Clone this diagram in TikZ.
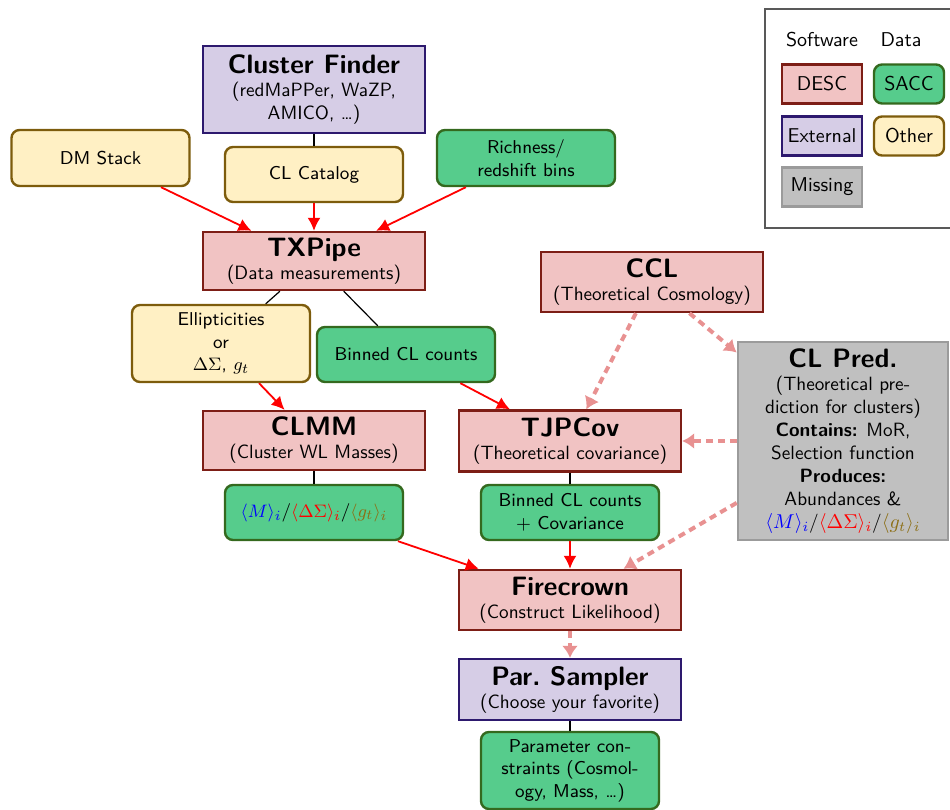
\documentclass[tikz,border=0pt]{standalone}
\usepackage{amsmath,amssymb}
\usepackage{tikz}
\usetikzlibrary{arrows.meta}
\usepackage{xcolor}
\definecolor{descfill}{RGB}{241,195,195}
\definecolor{descline}{RGB}{125,30,22}
\definecolor{extfill}{RGB}{214,205,230}
\definecolor{extline}{RGB}{45,25,110}
\definecolor{missfill}{RGB}{192,192,192}
\definecolor{missline}{RGB}{155,155,155}
\definecolor{saccfill}{RGB}{86,204,140}
\definecolor{saccline}{RGB}{52,105,30}
\definecolor{otherfill}{RGB}{255,240,196}
\definecolor{otherline}{RGB}{125,92,12}
\definecolor{dashred}{RGB}{232,145,145}
\definecolor{gtcol}{RGB}{140,110,20}
\newcommand{\boxtitle}{\fontsize{13.3}{15}\selectfont\bfseries}
\newcommand{\profs}{{\color{blue}$\langle M\rangle_i$}/{\color{red}$\langle\Delta\Sigma\rangle_i$}/{\color{gtcol}$\langle g_t\rangle_i$}}

\begin{document}
\begin{tikzpicture}[x=0.5pt,y=0.5pt,font=\sffamily\fontsize{9.6}{11.5}\selectfont,
  sw/.style={draw=descline,fill=descfill,line width=1.2pt,minimum width=111pt,minimum height=30pt,align=center,inner sep=2pt},
  ext/.style={sw,draw=extline,fill=extfill},
  miss/.style={sw,draw=missline,fill=missfill,line width=1.3pt},
  data/.style={draw=saccline,fill=saccfill,line width=1.2pt,rounded corners=4pt,minimum width=89pt,minimum height=27.5pt,align=center,inner sep=2pt,font=\sffamily\fontsize{9.3}{11.3}\selectfont},
  other/.style={data,draw=otherline,fill=otherfill},
  flow/.style={-{Latex[length=6.5pt,width=6.5pt]},red,line width=0.9pt},
  theo/.style={-{Latex[length=6pt,width=8pt]},dashred,line width=2pt,dash pattern=on 3.5pt off 2.5pt},
  link/.style={black,line width=0.6pt}]
\useasboundingbox (0,0) rectangle (950,810);
\draw[gray!70!black,line width=0.6pt] (950,801) -- (765,801) -- (765,582) -- (950,582);
\node (lsoft) at (822,770) {\fontsize{10}{12}\selectfont Software};
\node (ldata) at (901,770) {\fontsize{10}{12}\selectfont Data};
\node[sw,minimum width=40pt,minimum height=19.5pt,font=\sffamily\fontsize{10}{12}\selectfont] (ldesc) at (822,726) {DESC};
\node[ext,minimum width=40pt,minimum height=19.5pt,font=\sffamily\fontsize{10}{12}\selectfont] (lext) at (822,674) {External};
\node[miss,minimum width=40pt,minimum height=19.5pt,font=\sffamily\fontsize{10}{12}\selectfont] (lmiss) at (822,623) {Missing};
\node[data,minimum width=35pt,minimum height=19.5pt,font=\sffamily\fontsize{10}{12}\selectfont] (lsacc) at (909,726) {SACC};
\node[other,minimum width=35pt,minimum height=19.5pt,font=\sffamily\fontsize{10}{12}\selectfont] (lother) at (909,674) {Other};

\node[ext,minimum height=43.5pt] (cfinder) at (314,720.5) {{\boxtitle Cluster Finder}\\(redMaPPer, WaZP,\\AMICO, \ldots)};
\node[other,minimum height=28pt] (dmstack) at (100.5,652) {DM Stack};
\node[other] (clcat) at (314,635.5) {CL Catalog};
\node[data,minimum height=28pt] (richness) at (526,652) {Richness/\\redshift bins};
\node[sw,minimum height=29pt] (txpipe) at (314,549) {{\boxtitle TXPipe}\\(Data measurements)};
\node[sw] (ccl) at (652,528) {{\boxtitle CCL}\\(Theoretical Cosmology)};
\node[other,minimum height=38.5pt] (ellip) at (221,466.5) {Ellipticities\\or\\$\Delta\Sigma$, $g_t$};
\node[data] (bincounts) at (406,455.5) {Binned CL counts};
\node[miss,minimum width=105pt,minimum height=99pt] (clpred) at (843,369) {{\boxtitle CL Pred.}\\(Theoretical pre-\\diction for clusters)\\\textbf{Contains:} MoR,\\Selection function\\\textbf{Produces:}\\Abundances \&\\\profs};
\node[sw,minimum height=29.5pt] (clmm) at (314,369.5) {{\boxtitle CLMM}\\(Cluster WL Masses)};
\node[sw,minimum height=30.5pt] (tjpcov) at (570,369) {{\boxtitle TJPCov}\\(Theoretical covariance)};
\node[data] (profiles) at (314,297.5) {\profs};
\node[data] (bincov) at (570,297.5) {Binned CL counts\\+ Covariance};
\node[sw] (firecrown) at (570,210) {{\boxtitle Firecrown}\\(Construct Likelihood)};
\node[ext,minimum height=30.5pt] (sampler) at (570,120.5) {{\boxtitle Par.\ Sampler}\\(Choose your favorite)};
\node[data,minimum height=38.5pt] (constraints) at (570,39.5) {Parameter con-\\straints (Cosmol-\\ogy, Mass, \ldots)};

\draw[link] (cfinder) -- (clcat);
\draw[flow] (dmstack) -- (txpipe);
\draw[flow] (clcat) -- (txpipe);
\draw[flow] (richness) -- (txpipe);
\draw[link] (txpipe) -- (ellip);
\draw[link] (txpipe) -- (bincounts);
\draw[flow] (ellip) -- (clmm);
\draw[flow] (bincounts) -- (tjpcov);
\draw[theo] (ccl) -- (tjpcov);
\draw[theo] (ccl) -- (clpred);
\draw[theo] (clpred) -- (tjpcov);
\draw[theo] (clpred) -- (firecrown);
\draw[link] (clmm) -- (profiles);
\draw[link] (tjpcov) -- (bincov);
\draw[flow] (profiles) -- (firecrown);
\draw[flow] (bincov) -- (firecrown);
\draw[theo] (firecrown) -- (sampler);
\draw[link] (sampler) -- (constraints);
\end{tikzpicture}
\end{document}
